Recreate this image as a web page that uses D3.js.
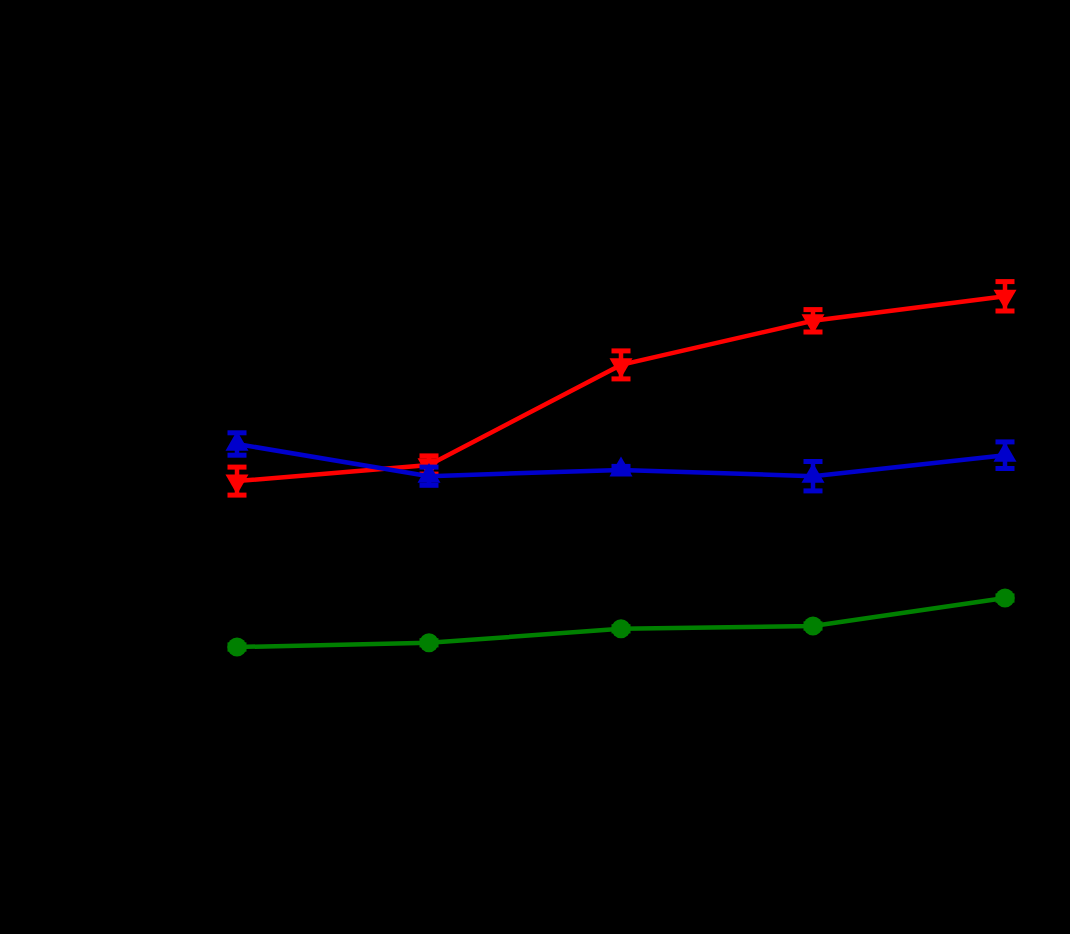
<!DOCTYPE html>
<html>
<head>
<meta charset="utf-8">
<script src="https://cdn.jsdelivr.net/npm/d3@7"></script>
<style>
  html, body { margin: 0; padding: 0; background: #000; }
  svg { display: block; }
</style>
</head>
<body>
<svg id="chart" width="1070" height="934"></svg>
<script>
// Data
const categories = ["0", "1", "2", "3", "4"];
const redValues  = [42.7, 45.0, 59.3, 65.6, 69.1];
const redErrors  = [2.0, 1.3, 2.0, 1.6, 2.1];
const blueValues = [48.0, 43.4, 44.3, 43.4, 46.4];
const blueErrors = [1.6, 1.3, 0.5, 2.1, 1.9];
const greenValues = [19.0, 19.6, 21.6, 22.0, 26.0];
const greenErrors = [0.3, 0.3, 0.3, 0.3, 0.3];
const yTicks = [0, 20, 40, 60, 80, 100];

const svg = d3.select("#chart");
svg.append("rect").attr("width", 1070).attr("height", 934).attr("fill", "#000");

const x = d3.scalePoint().domain(categories).range([237, 1005]);
const y = d3.scaleLinear().domain([0, 100]).range([780, 80]);

// Axes (black, as in the original which renders them on a dark backdrop)
const axisColor = "#000";
const gx = svg.append("g").attr("transform", "translate(0,780)")
  .call(d3.axisBottom(x).tickSize(8));
const gy = svg.append("g").attr("transform", "translate(150,0)")
  .call(d3.axisLeft(y).tickValues(yTicks).tickSize(8));
[gx, gy].forEach(g => {
  g.selectAll("path,line").attr("stroke", axisColor).attr("stroke-width", 3);
  g.selectAll("text").attr("fill", axisColor).attr("font-family", "Arial, Liberation Sans, sans-serif").attr("font-size", 22);
});

const series = [
  { name: "red", color: "#ff0000", values: redValues, errors: redErrors, marker: "down" },
  { name: "blue", color: "#0000cc", values: blueValues, errors: blueErrors, marker: "up" },
  { name: "green", color: "#008000", values: greenValues, errors: greenErrors, marker: "circle" }
];

const line = d3.line().x((d, i) => x(categories[i])).y(d => y(d));

series.forEach(s => {
  const g = svg.append("g");
  // error bars
  s.values.forEach((v, i) => {
    const cx = x(categories[i]);
    const top = y(v + s.errors[i]);
    const bot = y(v - s.errors[i]);
    g.append("line").attr("x1", cx).attr("x2", cx).attr("y1", top).attr("y2", bot)
      .attr("stroke", s.color).attr("stroke-width", 4.5);
    [top, bot].forEach(yy => {
      g.append("line").attr("x1", cx - 9.5).attr("x2", cx + 9.5).attr("y1", yy).attr("y2", yy)
        .attr("stroke", s.color).attr("stroke-width", 5);
    });
  });
  // line
  g.append("path").datum(s.values).attr("d", line)
    .attr("fill", "none").attr("stroke", s.color).attr("stroke-width", 4.5);
  // markers
  s.values.forEach((v, i) => {
    const cx = x(categories[i]);
    const cy = y(v);
    if (s.marker === "circle") {
      g.append("circle").attr("cx", cx).attr("cy", cy).attr("r", 9.5).attr("fill", s.color);
    } else {
      const sym = d3.symbol().type(d3.symbolTriangle).size(230);
      g.append("path").attr("d", sym())
        .attr("transform", `translate(${cx},${cy})` + (s.marker === "down" ? " rotate(180)" : ""))
        .attr("fill", s.color);
    }
  });
});
</script>
</body>
</html>
